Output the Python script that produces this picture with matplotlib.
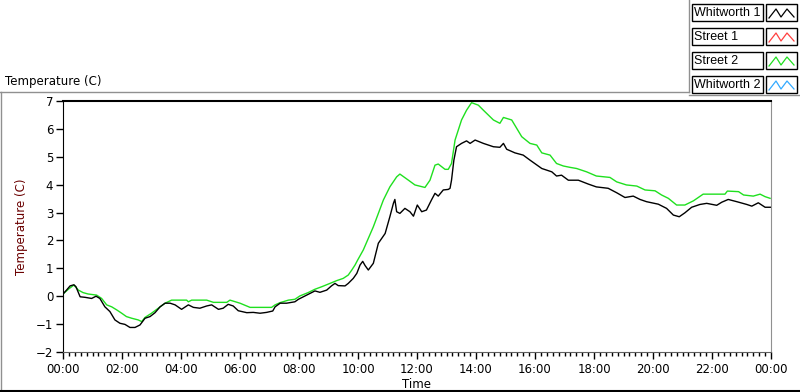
"""
Daily temperature trace, LabVIEW style chart
"""
import matplotlib
matplotlib.use('Agg')
import matplotlib.pyplot as plt
from matplotlib.patches import Rectangle
from matplotlib.lines import Line2D
import numpy as np

# ============================================================================
# DATA (hours since midnight, temperature in C)
# ============================================================================
hours_w1 = [0, 0.12, 0.24, 0.37, 0.44, 0.58, 0.75, 0.97, 1.12, 1.25, 1.42, 1.59,
            1.76, 1.93, 2.1, 2.27, 2.44, 2.61, 2.78, 2.95, 3.12, 3.29, 3.46, 3.63,
            3.8, 4.02, 4.25, 4.42, 4.64, 4.87, 5.04, 5.27, 5.43, 5.6, 5.77, 5.94,
            6.23, 6.45, 6.68, 6.9, 7.11, 7.19, 7.36, 7.58, 7.86, 7.98, 8.15, 8.37,
            8.54, 8.71, 8.94, 9.1, 9.22, 9.33, 9.56, 9.67, 9.84, 9.96, 10.07, 10.16,
            10.24, 10.35, 10.52, 10.69, 10.92, 11.08, 11.2, 11.25, 11.31, 11.42,
            11.59, 11.76, 11.88, 12.01, 12.16, 12.32, 12.49, 12.61, 12.72, 12.89,
            13.06, 13.12, 13.17, 13.25, 13.34, 13.51, 13.68, 13.8, 13.97, 14.25,
            14.59, 14.81, 14.93, 15.04, 15.32, 15.6, 15.83, 16.23, 16.57, 16.73,
            16.9, 17.13, 17.47, 17.81, 18.08, 18.48, 18.77, 19.05, 19.33, 19.56,
            19.78, 20.18, 20.46, 20.69, 20.89, 21.08, 21.31, 21.59, 21.82, 22.16,
            22.33, 22.55, 22.84, 23.18, 23.35, 23.57, 23.8, 23.98]
temp_w1 = [0.08, 0.22, 0.37, 0.41, 0.34, -0.02, -0.04, -0.08, 0.0, -0.08, -0.38, -0.55,
           -0.85, -0.97, -1.01, -1.12, -1.12, -1.03, -0.79, -0.73, -0.59, -0.38, -0.25, -0.25,
           -0.31, -0.47, -0.31, -0.40, -0.43, -0.35, -0.31, -0.47, -0.43, -0.29, -0.35, -0.52,
           -0.59, -0.58, -0.61, -0.58, -0.53, -0.38, -0.25, -0.25, -0.20, -0.11, -0.02, 0.10,
           0.19, 0.14, 0.22, 0.37, 0.46, 0.38, 0.37, 0.46, 0.64, 0.82, 1.12, 1.25,
           1.10, 0.94, 1.18, 1.90, 2.25, 2.85, 3.33, 3.47, 3.03, 2.97,
           3.15, 3.03, 2.87, 3.27, 3.03, 3.09, 3.45, 3.69, 3.59, 3.81,
           3.83, 3.87, 4.16, 4.88, 5.36, 5.48, 5.57, 5.48, 5.60, 5.48,
           5.36, 5.34, 5.48, 5.27, 5.14, 5.06, 4.88, 4.58, 4.46, 4.31,
           4.34, 4.16, 4.16, 4.02, 3.92, 3.87, 3.71, 3.54, 3.59, 3.47,
           3.39, 3.30, 3.15, 2.91, 2.85, 2.99, 3.19, 3.29, 3.33, 3.26,
           3.37, 3.47, 3.39, 3.29, 3.23, 3.35, 3.19, 3.19]

hours_s2 = [0, 0.18, 0.37, 0.52, 0.68, 0.85, 1.14, 1.31, 1.48, 1.65, 1.82, 1.99,
            2.15, 2.33, 2.55, 2.67, 2.78, 3.0, 3.23, 3.46, 3.68, 4.19, 4.25, 4.36,
            4.87, 5.1, 5.55, 5.66, 6.0, 6.34, 7.07, 7.19, 7.36, 7.64, 7.86, 8.03,
            8.31, 8.54, 8.77, 9.05, 9.28, 9.5, 9.67, 9.79, 9.9, 9.99, 10.18, 10.52,
            10.86, 11.08, 11.31, 11.42, 11.71, 11.93, 12.27, 12.44, 12.61, 12.72,
            12.95, 13.06, 13.17, 13.29, 13.51, 13.68, 13.85, 14.08, 14.25, 14.59,
            14.81, 14.93, 15.21, 15.55, 15.83, 16.06, 16.23, 16.51, 16.73, 16.96,
            17.19, 17.41, 17.75, 18.08, 18.54, 18.77, 19.1, 19.45, 19.73, 20.07,
            20.29, 20.52, 20.8, 21.08, 21.37, 21.7, 22.44, 22.52, 22.9, 23.07,
            23.4, 23.63, 23.8, 23.97]
temp_s2 = [0.08, 0.25, 0.40, 0.22, 0.13, 0.08, 0.04, -0.08, -0.31, -0.38, -0.49, -0.61,
           -0.73, -0.79, -0.85, -0.91, -0.76, -0.61, -0.43, -0.25, -0.14, -0.14, -0.20, -0.14,
           -0.14, -0.22, -0.22, -0.14, -0.25, -0.40, -0.40, -0.31, -0.23, -0.14, -0.11, 0.01,
           0.13, 0.25, 0.34, 0.46, 0.56, 0.64, 0.76, 0.94, 1.12, 1.30, 1.66, 2.49,
           3.45, 3.92, 4.28, 4.38, 4.16, 3.99, 3.90, 4.16, 4.70, 4.74,
           4.55, 4.55, 4.76, 5.60, 6.32, 6.67, 6.94, 6.85, 6.67, 6.32,
           6.20, 6.41, 6.32, 5.72, 5.48, 5.42, 5.14, 5.06, 4.76, 4.67,
           4.62, 4.58, 4.46, 4.31, 4.26, 4.10, 3.99, 3.95, 3.81, 3.78,
           3.63, 3.51, 3.27, 3.27, 3.42, 3.66, 3.66, 3.77, 3.75, 3.63,
           3.59, 3.66, 3.57, 3.51]

legend_names = ['Whitworth 1', 'Street 1', 'Street 2', 'Whitworth 2']
legend_colors = ['black', '#ff4040', '#1fe01f', '#33aaff']
tick_hours = list(range(0, 25, 2))
tick_labels = [f'{h % 24:02d}:00' for h in tick_hours]

W, H = 800, 392


def fx(px):
    return px / W


def fy(py):
    return 1 - py / H


fig = plt.figure(figsize=(8, 3.92), dpi=100)
plt.rcParams['font.family'] = 'DejaVu Sans'

ax = fig.add_axes([fx(63), fy(352), fx(771) - fx(63), fy(101) - fy(352)])
ax.plot(hours_s2, temp_s2, color=legend_colors[2], lw=1)
ax.plot(hours_w1, temp_w1, color='black', lw=1)

ax.set_xlim(0, 24)
ax.set_ylim(-2, 7)
ax.set_yticks(range(-2, 8))
ax.set_xticks(tick_hours)
ax.set_xticklabels(tick_labels)
ax.set_xticks(np.arange(0, 24.01, 0.2), minor=True)
ax.tick_params(axis='x', which='major', length=5, width=1, labelsize=8.5, pad=3)
ax.tick_params(axis='x', which='minor', length=3, width=1)
ax.tick_params(axis='y', length=5, width=1, labelsize=8.5, pad=2)

ax.spines['left'].set_color('black')
ax.spines['top'].set_color('black')
ax.spines['top'].set_linewidth(1.5)
ax.spines['right'].set_color('#909090')
ax.spines['bottom'].set_color('#606060')

ax.set_xlabel('Time', fontsize=8.5, labelpad=1)
ax.set_ylabel('Temperature (C)', fontsize=8.5, color='#6a0000', labelpad=6)

# outer panel frame
fig.add_artist(Line2D([fx(0), fx(689)], [fy(92), fy(92)], color='#909090', lw=1))
fig.add_artist(Line2D([fx(689), fx(689)], [fy(0), fy(92)], color='#909090', lw=1))
fig.add_artist(Line2D([fx(689), fx(800)], [fy(95), fy(95)], color='#909090', lw=1))
fig.add_artist(Line2D([fx(0.5), fx(0.5)], [fy(92), fy(391)], color='#909090', lw=1))
fig.add_artist(Line2D([fx(0), fx(800)], [fy(390.5), fy(390.5)], color='black', lw=1.5))

fig.text(fx(5), fy(82), 'Temperature (C)', fontsize=8.5, va='center', ha='left')

# legend boxes
for i, (name, col) in enumerate(zip(legend_names, legend_colors)):
    top = 4 + i * 24
    fig.add_artist(Rectangle((fx(692), fy(top + 17)), fx(71), fy(top) - fy(top + 17),
                             facecolor='white', edgecolor='black', lw=1))
    fig.text(fx(694), fy(top + 8.5), name, fontsize=9, va='center', ha='left',
             family='Liberation Sans')
    fig.add_artist(Rectangle((fx(766), fy(top + 17)), fx(31), fy(top) - fy(top + 17),
                             facecolor='white', edgecolor='black', lw=1))
    xs = [769, 776, 781, 787, 794]
    ys = [top + 14, top + 5, top + 13, top + 5, top + 13]
    fig.add_artist(Line2D([fx(v) for v in xs], [fy(v) for v in ys], color=col, lw=0.9))

fig.savefig('out.png', dpi=100, facecolor='white')
